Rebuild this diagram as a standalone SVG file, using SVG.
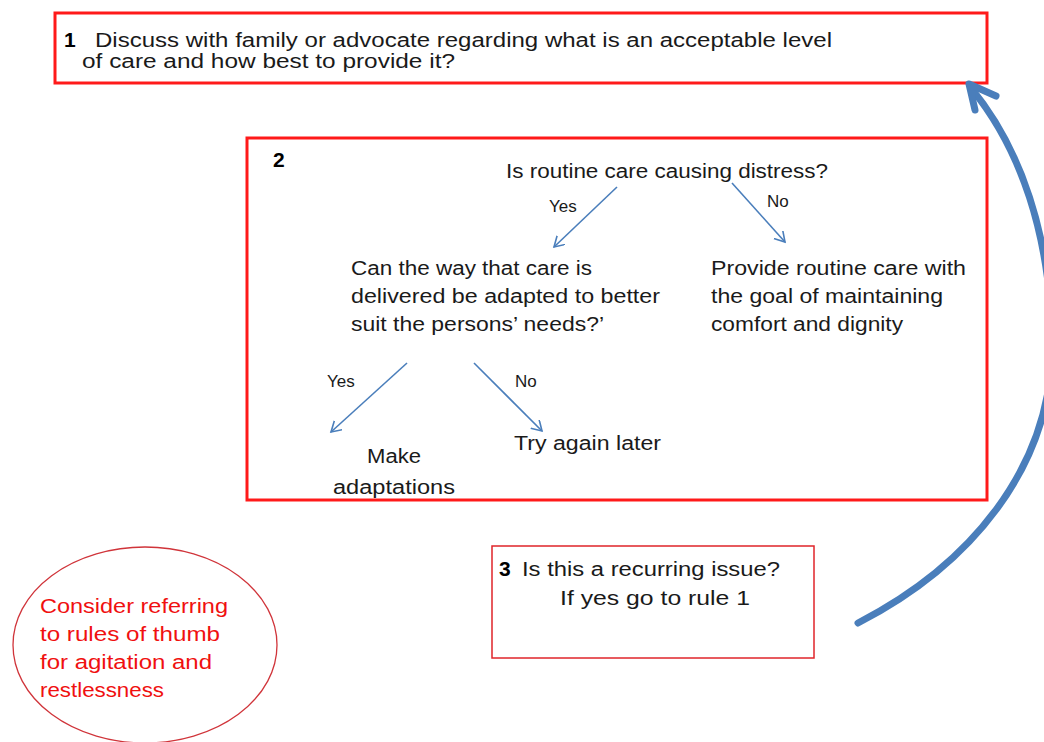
<svg xmlns="http://www.w3.org/2000/svg" width="1044" height="742" viewBox="0 0 1044 742">
<style>
.box{fill:none;stroke:#ff1a1a;stroke-width:3}
.box3{fill:none;stroke:#e0242a;stroke-width:1.5}
.t{font-family:"Liberation Sans",Arial,sans-serif;font-size:20px;fill:#1a1a1a}
.s{font-family:"Liberation Sans",Arial,sans-serif;font-size:17px;fill:#1a1a1a}
.b{font-family:"Liberation Sans",Arial,sans-serif;font-size:21px;font-weight:bold;fill:#000}
.r{font-family:"Liberation Sans",Arial,sans-serif;font-size:20px;fill:#f01010}
.arr{fill:none;stroke:#4a7ebb;stroke-width:1.6;marker-end:url(#ah)}
</style>
<defs>
<marker id="ah" markerWidth="14" markerHeight="14" refX="10" refY="6" orient="auto" markerUnits="userSpaceOnUse">
<path d="M0,0 L10,6 L0,12" fill="none" stroke="#4a7ebb" stroke-width="1.6"/>
</marker>
</defs>
<rect width="1044" height="742" fill="#fff"/>

<g id="node1">
<rect class="box" x="55" y="13" width="932" height="70"/>
<text class="b" x="64" y="47">1</text>
<text class="t" x="95" y="47" textLength="737" lengthAdjust="spacingAndGlyphs">Discuss with family or advocate regarding what is an acceptable level</text>
<text class="t" x="82" y="68" textLength="373" lengthAdjust="spacingAndGlyphs">of care and how best to provide it?</text>
</g>

<g id="node2">
<rect class="box" x="247" y="138" width="740" height="362"/>
<text class="b" x="273" y="167">2</text>
<text class="t" x="506" y="178" textLength="322" lengthAdjust="spacingAndGlyphs">Is routine care causing distress?</text>
<text class="s" x="549" y="212">Yes</text>
<text class="s" x="767" y="207">No</text>
<text class="t" x="351" y="275" textLength="241" lengthAdjust="spacingAndGlyphs">Can the way that care is</text>
<text class="t" x="351" y="303" textLength="309" lengthAdjust="spacingAndGlyphs">delivered be adapted to better</text>
<text class="t" x="351" y="331" textLength="253" lengthAdjust="spacingAndGlyphs">suit the persons’ needs?’</text>
<text class="t" x="711" y="275" textLength="255" lengthAdjust="spacingAndGlyphs">Provide routine care with</text>
<text class="t" x="711" y="303" textLength="232" lengthAdjust="spacingAndGlyphs">the goal of maintaining</text>
<text class="t" x="711" y="331" textLength="192" lengthAdjust="spacingAndGlyphs">comfort and dignity</text>
<text class="s" x="327" y="387">Yes</text>
<text class="s" x="515" y="387">No</text>
<text class="t" x="367" y="463" textLength="54" lengthAdjust="spacingAndGlyphs">Make</text>
<text class="t" x="333" y="494" textLength="122" lengthAdjust="spacingAndGlyphs">adaptations</text>
<text class="t" x="514" y="450" textLength="147" lengthAdjust="spacingAndGlyphs">Try again later</text>
</g>

<g id="node3">
<rect class="box3" x="492" y="546" width="322" height="112"/>
<text class="b" x="499" y="576">3</text>
<text class="t" x="522" y="576" textLength="258" lengthAdjust="spacingAndGlyphs">Is this a recurring issue?</text>
<text class="t" x="560" y="605" textLength="190" lengthAdjust="spacingAndGlyphs">If yes go to rule 1</text>
</g>

<g id="note">
<ellipse cx="145" cy="645" rx="132" ry="98" fill="none" stroke="#d0343a" stroke-width="1.3"/>
<text class="r" x="40" y="613" textLength="188" lengthAdjust="spacingAndGlyphs">Consider referring</text>
<text class="r" x="40" y="641" textLength="180" lengthAdjust="spacingAndGlyphs">to rules of thumb</text>
<text class="r" x="40" y="669" textLength="172" lengthAdjust="spacingAndGlyphs">for agitation and</text>
<text class="r" x="40" y="697" textLength="124" lengthAdjust="spacingAndGlyphs">restlessness</text>
</g>

<g id="connectors">
<path class="arr" d="M617,187 L554,247"/>
<path class="arr" d="M732,183 L785,242"/>
<path class="arr" d="M407,363 L331,432"/>
<path class="arr" d="M474,363 L542,431"/>
<path d="M858,623 C965,568 1056,470 1052,335 C1049,235 1022,150 971,88" fill="none" stroke="#4a7ebb" stroke-width="7" stroke-linecap="round"/>
<path d="M975,110 L969,84 L996,96" fill="none" stroke="#4a7ebb" stroke-width="7" stroke-linecap="round" stroke-linejoin="round"/>
</g>
</svg>
